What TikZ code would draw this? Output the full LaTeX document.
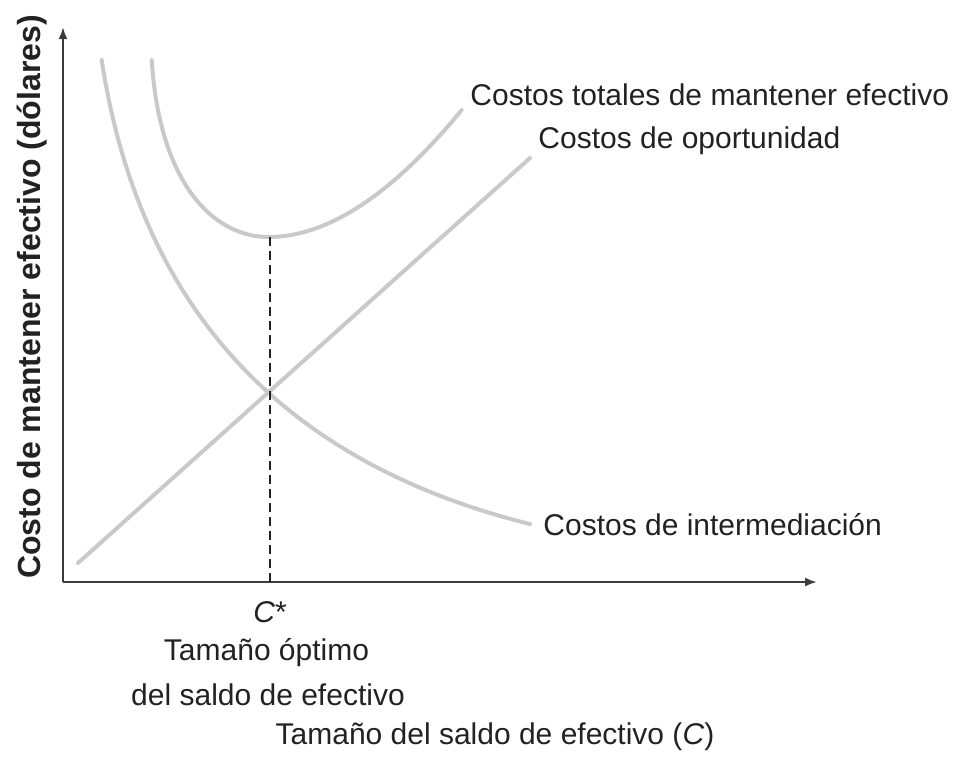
\documentclass[tikz,border=0pt]{standalone}
\usepackage{fontspec}
\setmainfont{Liberation Sans}
\usetikzlibrary{arrows.meta}
\definecolor{curvagris}{HTML}{C9C9C9}
\definecolor{ejegris}{HTML}{3C3C3C}
\definecolor{textogris}{HTML}{222222}
\tikzset{
  curva/.style={line width=2pt, color=curvagris, line cap=round},
  eje/.style={line width=1.1pt, color=ejegris, -{Latex[length=6pt,width=4.5pt]}},
  rotulo/.style={font=\fontsize{15}{18}\selectfont, text=textogris, inner sep=0pt},
}
\begin{document}
\begin{tikzpicture}[x=0.5pt,y=-0.5pt]%% pixel units
    \useasboundingbox (0,0) rectangle (956,757);

        % ejes
        \coordinate (origen) at (63,582);
        \coordinate (ytope) at (63,27);
        \coordinate (xfin) at (817,582);
        \draw[eje] (origen) -- (ytope);
        \draw[eje] (origen) -- (xfin);

        % costos de oportunidad
        \coordinate (opIni) at (78,563);
        \coordinate (opFin) at (530,158);
        \draw[curva] (opIni) -- (opFin);

        % costos de intermediacion
        \coordinate (intIni) at (101.7,60);
        \coordinate (intFin) at (530,524);
        \draw[curva] (intIni) .. controls (139,305) and (280,462) .. (intFin);

        % costos totales
        \coordinate (totIni) at (151.7,60);
        \coordinate (minimo) at (270,237);
        \coordinate (totFin) at (461.7,110);
        \draw[curva] (totIni) .. controls (160,190) and (218,238) .. (minimo)
                              .. controls (335,236) and (400,185) .. (totFin);

        % optimo
        \coordinate (cOpt) at (270,582);
        \draw[dashed, dash pattern=on 4.5pt off 2.5pt, line width=0.7pt, color=textogris] (minimo) -- (cOpt);

        % rotulos
        \node[rotulo, anchor=base west] (lblTotal) at (470,105) {Costos totales de mantener efectivo};
        \node[rotulo, anchor=base west] (lblOport) at (538,148) {Costos de oportunidad};
        \node[rotulo, anchor=base west] (lblInter) at (543,535) {Costos de intermediación};
        \node[rotulo, anchor=base] (lblCstar) at (270,622) {\textit{C}*};
        \node[rotulo, anchor=base] (lblOpt1) at (266.5,660) {Tamaño óptimo};
        \node[rotulo, anchor=base] (lblOpt2) at (268,705) {del saldo de efectivo};
        \node[rotulo, anchor=base] (lblX) at (495,744) {Tamaño del saldo de efectivo (\textit{C})};
        \node[rotulo, font=\fontsize{16}{18}\selectfont\bfseries, rotate=90, anchor=base] (lblY) at (40,297)
            {Costo de mantener efectivo (dólares)};

\end{tikzpicture}
\end{document}
